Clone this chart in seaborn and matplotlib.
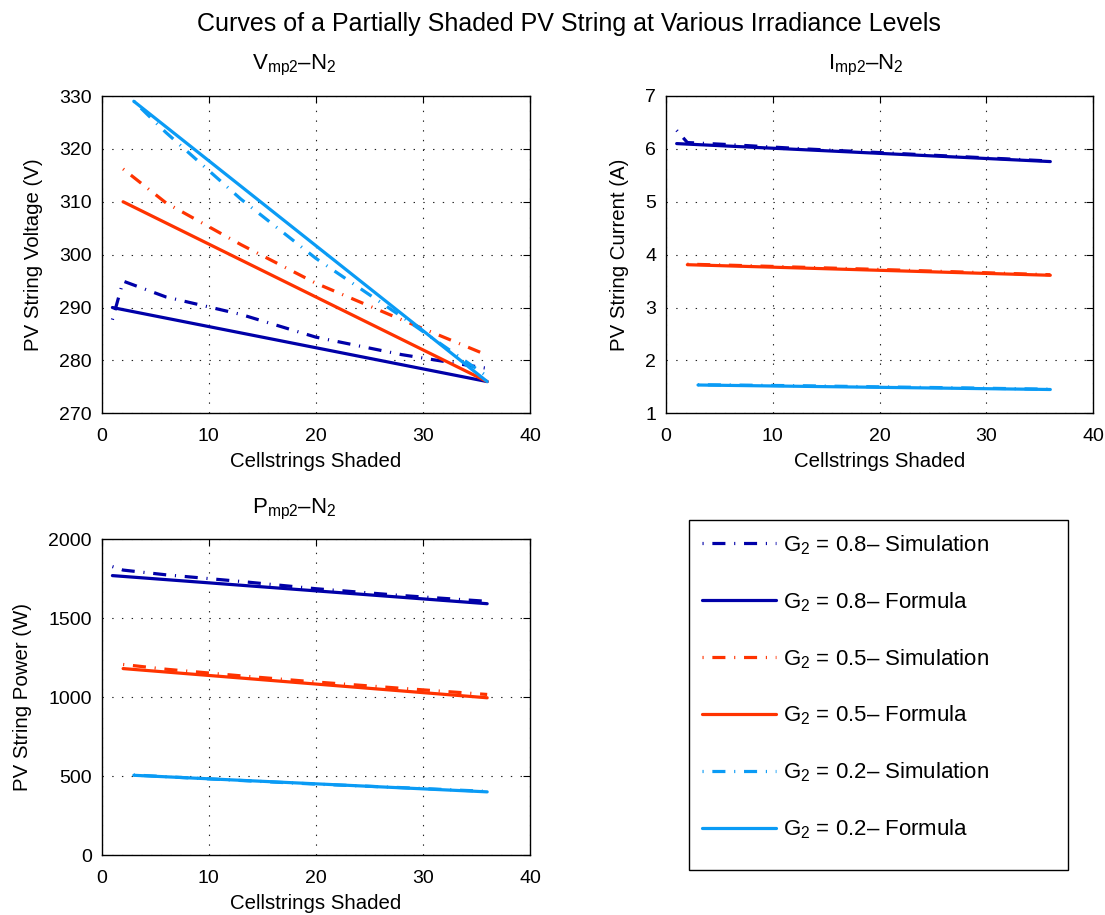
import matplotlib
matplotlib.use("Agg")
import matplotlib.pyplot as plt
from matplotlib.patches import Rectangle
import seaborn as sns

# --- data -------------------------------------------------------------
# Cellstrings shaded (N2) and maximum-power-point values for three irradiance levels
n_sim_08 = [1, 2, 6, 13, 20, 28, 36]
v_sim_08 = [287.7, 295.0, 292.0, 288.7, 284.4, 281.1, 278.5]
n_frm_08 = [1, 36]
v_frm_08 = [290.0, 276.0]

n_sim_05 = [2, 6, 13, 20, 28, 36]
v_sim_05 = [316.2, 309.8, 301.9, 294.6, 287.7, 281.0]
n_frm_05 = [2, 36]
v_frm_05 = [310.0, 276.0]

n_sim_02 = [3, 6, 13, 20, 28, 36]
v_sim_02 = [329.0, 323.1, 310.5, 299.3, 288.3, 277.0]
n_frm_02 = [3, 36]
v_frm_02 = [329.0, 276.0]

i_sim_08 = [6.35, 6.12, 6.08, 6.00, 5.93, 5.85, 5.77]
i_frm_08 = [6.10, 5.76]
i_sim_05 = [3.82, 3.80, 3.76, 3.72, 3.67, 3.62]
i_frm_05 = [3.81, 3.61]
i_sim_02 = [1.54, 1.535, 1.52, 1.50, 1.48, 1.455]
i_frm_02 = [1.535, 1.45]

p_sim_08 = [1827, 1805, 1775, 1733, 1687, 1644, 1607]
p_frm_08 = [1770, 1592]
p_sim_05 = [1207, 1177, 1135, 1096, 1056, 1017]
p_frm_05 = [1181, 996]
p_sim_02 = [507, 496, 472, 449, 427, 403]
p_frm_02 = [505, 400]

levels = ["0.8", "0.5", "0.2"]
colors = ["#0000A8", "#FF3300", "#0A9BF5"]

panel_titles = [r"$\mathregular{V_{mp2}}$–$\mathregular{N_2}$",
                r"$\mathregular{I_{mp2}}$–$\mathregular{N_2}$",
                r"$\mathregular{P_{mp2}}$–$\mathregular{N_2}$"]
title_x = [0.449, 0.468, 0.449]
y_labels = ["PV String Voltage (V)", "PV String Current (A)", "PV String Power (W)"]
x_label = "Cellstrings Shaded"
fig_title = "Curves of a Partially Shaded PV String at Various Irradiance Levels"

# --- styling ----------------------------------------------------------
sns.set_theme(style="white")
plt.rcParams["font.family"] = ["Liberation Sans", "DejaVu Sans"]
plt.rcParams["mathtext.fontset"] = "custom"
plt.rcParams["mathtext.rm"] = "Liberation Sans"
plt.rcParams["mathtext.it"] = "Liberation Sans"
plt.rcParams["lines.scale_dashes"] = False
for key in ["text.color", "axes.labelcolor", "xtick.color", "ytick.color"]:
    plt.rcParams[key] = "black"

# dash-dot pattern that starts on the dot
DASHDOT = (15.7, (9.4, 6.3, 0.8, 6.3))
LW = 2.3

fig = plt.figure(figsize=(11.05, 9.15), dpi=100)
W, H = 1105, 915


def axes_px(left, top, right, bottom):
    return fig.add_axes([left / W, 1 - bottom / H, (right - left) / W, (bottom - top) / H])


ax_v = axes_px(101.7, 96, 530, 413.3)
ax_i = axes_px(666, 96, 1093, 413.3)
ax_p = axes_px(101.7, 539.3, 530, 855)

series = {
    ax_v: [(n_sim_08, v_sim_08, n_frm_08, v_frm_08),
           (n_sim_05, v_sim_05, n_frm_05, v_frm_05),
           (n_sim_02, v_sim_02, n_frm_02, v_frm_02)],
    ax_i: [(n_sim_08, i_sim_08, n_frm_08, i_frm_08),
           (n_sim_05, i_sim_05, n_frm_05, i_frm_05),
           (n_sim_02, i_sim_02, n_frm_02, i_frm_02)],
    ax_p: [(n_sim_08, p_sim_08, n_frm_08, p_frm_08),
           (n_sim_05, p_sim_05, n_frm_05, p_frm_05),
           (n_sim_02, p_sim_02, n_frm_02, p_frm_02)],
}

for ax, groups in series.items():
    for (ns, ys, nf, yf), lev, col in zip(groups, levels, colors):
        sns.lineplot(x=ns, y=ys, ax=ax, color=col, linestyle=DASHDOT, lw=LW,
                     sort=False, dash_capstyle="butt",
                     label=rf"$\mathregular{{G_2}}$ = {lev}– Simulation")
        sns.lineplot(x=nf, y=yf, ax=ax, color=col, linestyle="-", lw=LW,
                     sort=False, label=rf"$\mathregular{{G_2}}$ = {lev}– Formula")
    if ax.get_legend() is not None:
        ax.get_legend().remove()

limits = {ax_v: ((270, 330), [270, 280, 290, 300, 310, 320, 330]),
          ax_i: ((1, 7), [1, 2, 3, 4, 5, 6, 7]),
          ax_p: ((0, 2000), [0, 500, 1000, 1500, 2000])}

for ax, title, tx, ylab in zip([ax_v, ax_i, ax_p], panel_titles, title_x, y_labels):
    (y0, y1), yt = limits[ax]
    ax.set_xlim(0, 40)
    ax.set_ylim(y0, y1)
    ax.set_xticks([0, 10, 20, 30, 40])
    ax.set_yticks(yt)
    ax.tick_params(direction="in", top=True, right=True, length=5, width=0.8,
                   labelsize=14, colors="black")
    ax.tick_params(axis="x", pad=10.5)
    ax.tick_params(axis="y", pad=7)
    ax.grid(True, color="#222222", linestyle=(0, (1, 6)), linewidth=0.8)
    for s in ax.spines.values():
        s.set_color("black")
        s.set_linewidth(1.0)
    ax.set_title(title, fontsize=16, pad=19, x=tx)
    ax.set_xlabel(x_label, fontsize=14.7, labelpad=5)
    ax.set_ylabel(ylab, fontsize=14.7, labelpad=12)

fig.text(569 / W, 1 - 24 / H, fig_title, ha="center", va="center", fontsize=18)

# legend box drawn as its own frame, entries laid out inside it
fig.add_artist(Rectangle((689 / W, 1 - 870 / H), (1068 - 689) / W, (870 - 519.7) / H,
                         transform=fig.transFigure, fill=False, edgecolor="black",
                         linewidth=1.0))
handles, labels = ax_v.get_legend_handles_labels()
leg = fig.legend(handles, labels, loc="upper left",
                 bbox_to_anchor=(689 / W, 1 - 519.7 / H),
                 fontsize=16, frameon=False, borderaxespad=0, borderpad=0.6,
                 labelspacing=1.5, handlelength=3.33, handletextpad=0.32)

fig.savefig("out.png", dpi=100, facecolor="white")
